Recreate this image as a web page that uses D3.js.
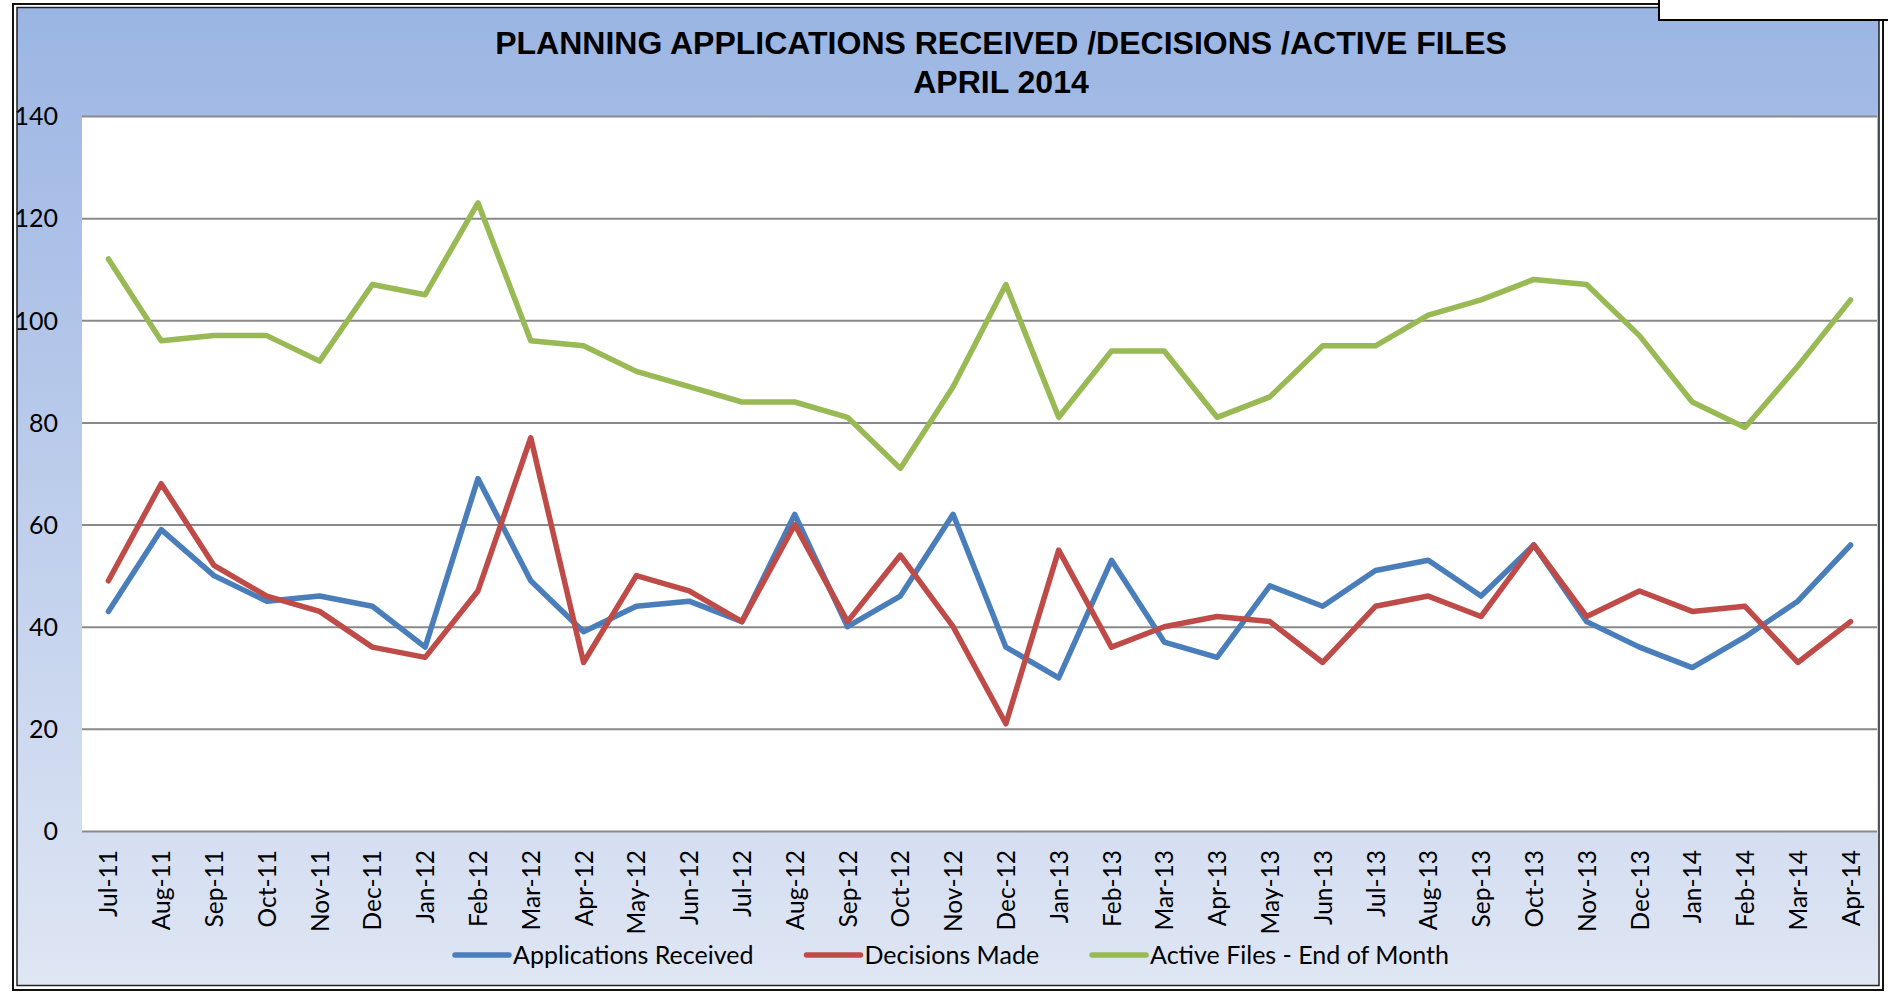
<!DOCTYPE html>
<meta charset="utf-8">
<style>
body {
  margin: 0;
  background: #fff;
}
.title {
  font-family: "Liberation Sans", Arial, sans-serif;
  font-weight: bold;
  font-size: 32px;
}
.lbl {
  font-family: Lato, "Open Sans", sans-serif;
  fill: #000;
}
.line {
  fill: none;
  stroke-width: 5.5px;
  stroke-linejoin: round;
  stroke-linecap: round;
}
</style>
<body>

<div id="chart"></div>

<script src="https://d3js.org/d3.v7.min.js"></script>
<script>

var months = ["Jul-11","Aug-11","Sep-11","Oct-11","Nov-11","Dec-11",
  "Jan-12","Feb-12","Mar-12","Apr-12","May-12","Jun-12","Jul-12","Aug-12","Sep-12","Oct-12","Nov-12","Dec-12",
  "Jan-13","Feb-13","Mar-13","Apr-13","May-13","Jun-13","Jul-13","Aug-13","Sep-13","Oct-13","Nov-13","Dec-13",
  "Jan-14","Feb-14","Mar-14","Apr-14"];

var applications = [43,59,50,45,46,44, 36,69,49,39,44,45,41,62,40,46,62,36,
  30,53,37,34,48,44,51,53,46,56,41,36, 32,38,45,56];

var decisions = [49,68,52,46,43,36, 34,47,77,33,50,47,41,60,41,54,40,21,
  55,36,40,42,41,33,44,46,42,56,42,47, 43,44,33,41];

var activeFiles = [112,96,97,97,92,107, 105,123,96,95,90,87,84,84,81,71,87,107,
  81,94,94,81,85,95,95,101,104,108,107,97, 84,79,91,104];

var yTicks = [0,20,40,60,80,100,120,140];

var seriesNames = ["Applications Received","Decisions Made","Active Files - End of Month"];
var seriesColors = ["#4a7ebb","#be4b48","#98b954"];

var W = 1888, H = 994;
var margin = {top: 116, right: 11, bottom: 163, left: 82},
    width = W - margin.left - margin.right,
    height = H - margin.top - margin.bottom;

var svg = d3.select("#chart")
  .append("svg")
    .attr("width", W)
    .attr("height", H);

// background gradient of the chart area
var grad = svg.append("defs").append("linearGradient")
    .attr("id", "bg")
    .attr("x1", 0).attr("y1", 0).attr("x2", 0).attr("y2", 1);
grad.append("stop").attr("offset", "0%").attr("stop-color", "#9bb5e3");
grad.append("stop").attr("offset", "100%").attr("stop-color", "#dfe6f4");

// double frame
svg.append("rect")
    .attr("x", 13).attr("y", 4)
    .attr("width", 1870).attr("height", 986)
    .attr("fill", "#fff")
    .attr("stroke", "#111")
    .attr("stroke-width", 2);
svg.append("rect")
    .attr("x", 17).attr("y", 7.5)
    .attr("width", 1862).attr("height", 978)
    .attr("fill", "url(#bg)")
    .attr("stroke", "#222")
    .attr("stroke-width", 1.5);

// white tab top right
svg.append("rect")
    .attr("x", 1659).attr("y", -4)
    .attr("width", 240).attr("height", 24)
    .attr("fill", "#fff")
    .attr("stroke", "#000")
    .attr("stroke-width", 2);

svg.append("text")
    .attr("class", "title")
    .attr("x", 1001).attr("y", 54)
    .attr("text-anchor", "middle")
    .text("PLANNING APPLICATIONS RECEIVED /DECISIONS /ACTIVE FILES");
svg.append("text")
    .attr("class", "title")
    .attr("x", 1001).attr("y", 93)
    .attr("text-anchor", "middle")
    .text("APRIL 2014");

var g = svg.append("g")
    .attr("transform", "translate(" + margin.left + "," + margin.top + ")");

g.append("rect")
    .attr("width", width)
    .attr("height", height)
    .attr("fill", "#fff");

var x = d3.scalePoint()
    .domain(months)
    .range([0, width])
    .padding(0.5);

var y = d3.scaleLinear()
    .domain([0, 140])
    .range([height, 0]);

// gridlines
var grid = g.append("g")
    .call(d3.axisLeft(y).tickValues(yTicks).tickSize(-width).tickFormat(""));
grid.select(".domain").remove();
grid.selectAll("line")
    .attr("stroke", "#898989")
    .attr("stroke-width", 2);

// y labels
var yAxis = g.append("g")
    .call(d3.axisLeft(y).tickValues(yTicks).tickSize(0).tickPadding(24));
yAxis.select(".domain").remove();
yAxis.selectAll("text")
    .attr("class", "lbl")
    .style("font-size", "25px")
    .attr("dy", "0.35em");

// x labels
var xAxis = g.append("g")
    .attr("transform", "translate(0," + height + ")")
    .call(d3.axisBottom(x).tickSize(0));
xAxis.select(".domain").remove();
xAxis.selectAll("text")
    .attr("class", "lbl")
    .style("font-size", "24.5px")
    .attr("transform", "rotate(-90)")
    .attr("text-anchor", "end")
    .attr("x", -19)
    .attr("y", 0)
    .attr("dy", "0.35em");

var line = d3.line()
    .x(function(d, i) { return x(months[i]); })
    .y(function(d) { return y(d); });

[applications, decisions, activeFiles].forEach(function(s, k) {
  g.append("path")
      .datum(s)
      .attr("class", "line")
      .attr("stroke", seriesColors[k])
      .attr("d", line);
});

// legend
var legend = svg.append("g");
var swatch = 54, gapText = 4, gapItem = 53, ly = 955;
var items = legend.selectAll("g")
    .data(seriesNames)
    .enter()
    .append("g");
items.append("line")
    .attr("x1", 0).attr("x2", swatch)
    .attr("y1", 0).attr("y2", 0)
    .attr("stroke", function(d, i) { return seriesColors[i]; })
    .attr("stroke-width", 5.5)
    .attr("stroke-linecap", "round");
items.append("text")
    .attr("class", "lbl")
    .style("font-size", "25px")
    .attr("x", swatch + gapText)
    .attr("dy", "0.35em")
    .text(function(d) { return d; });

var widths = [];
items.select("text").each(function() { widths.push(this.getComputedTextLength()); });
var total = d3.sum(widths) + seriesNames.length * (swatch + gapText) + (seriesNames.length - 1) * gapItem;
var cx = 952 - total / 2;
items.attr("transform", function(d, i) {
  var pos = cx;
  for (var j = 0; j < i; j++) pos += swatch + gapText + widths[j] + gapItem;
  return "translate(" + pos + "," + ly + ")";
});

</script>
</body>
